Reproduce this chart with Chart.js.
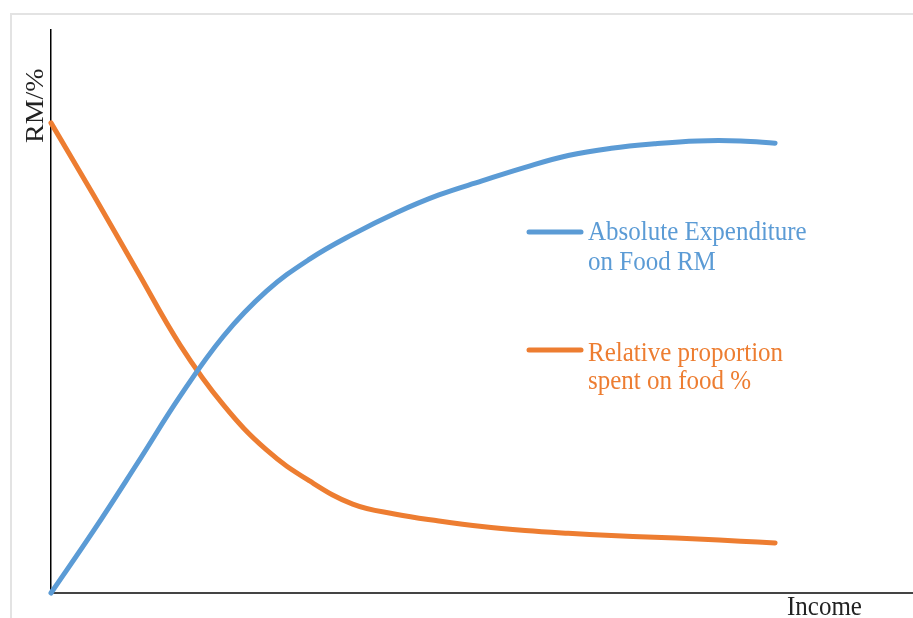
<!DOCTYPE html>
<html>
<head>
<meta charset="utf-8">
<script src="https://cdn.jsdelivr.net/npm/chart.js@4.4.0/dist/chart.umd.min.js"></script>
<style>
  body { margin: 0; background: #fff; }
  #wrap { position: relative; width: 913px; height: 618px; overflow: hidden; }
  #frame { position: absolute; left: 10px; top: 13px; width: 1000px; height: 700px; border: 2px solid #e3e3e3; }
  #myChart { position: absolute; left: 0; top: 0; }
</style>
</head>
<body>
<div id="wrap">
  <div id="frame"></div>
  <canvas id="myChart" width="913" height="618"></canvas>
</div>
<script>
// income steps (x) and the two curves
const income = [0, 5, 10, 15, 20, 25, 30, 35, 40, 45, 50, 55, 60, 65, 70, 75, 80, 84];
const absoluteExpenditure = [0, 11.2, 23.0, 35.0, 45.6, 53.6, 59.3, 63.7, 67.5, 70.7, 73.2, 75.6, 77.7, 79.0, 79.8, 80.3, 80.3, 79.9];
const relativeProportion = [83.5, 70.5, 57.2, 44.0, 33.4, 25.4, 19.9, 15.8, 14.0, 12.8, 11.8, 11.1, 10.6, 10.2, 9.9, 9.6, 9.2, 8.9];
const seriesNames = [['Absolute Expenditure', 'on Food RM'], ['Relative proportion', 'spent on food %']];
const seriesColors = ['#5B9BD5', '#ED7D31'];
const yAxisLabel = 'RM/%';
const xAxisLabel = 'Income';

function toPoints(values) {
    return income.map((x, i) => ({ x: x, y: values[i] }));
}

// text in the original is stretched a bit vertically
function stretchedText(ctx, text, x, y, sx, sy) {
    ctx.save();
    ctx.translate(x, y);
    ctx.scale(sx, sy);
    ctx.fillText(text, 0, 0);
    ctx.restore();
}

const labelsPlugin = {
    id: 'labelsPlugin',
    afterDraw(chart) {
        const ctx = chart.ctx;
        ctx.save();
        ctx.font = '25px "Liberation Serif", "Times New Roman", serif';
        ctx.textBaseline = 'alphabetic';
        ctx.textAlign = 'left';

        // legend inside the plot
        const legendSpots = [
            { lineY: 232, base: [240, 270] },
            { lineY: 350, base: [361, 389] }
        ];
        chart.data.datasets.forEach((ds, i) => {
            const spot = legendSpots[i];
            ctx.strokeStyle = ds.borderColor;
            ctx.lineWidth = 5;
            ctx.lineCap = 'round';
            ctx.beginPath();
            ctx.moveTo(529, spot.lineY);
            ctx.lineTo(581, spot.lineY);
            ctx.stroke();
            ctx.fillStyle = ds.borderColor;
            ds.label.forEach((line, j) => {
                stretchedText(ctx, line, 588, spot.base[j], 1, 1.12);
            });
        });

        // axis titles
        ctx.fillStyle = '#222';
        stretchedText(ctx, xAxisLabel, 787, 615, 1, 1.12);
        ctx.save();
        ctx.translate(43, 143);
        ctx.rotate(-Math.PI / 2);
        ctx.scale(1.12, 1);
        ctx.fillText(yAxisLabel, 0, 0);
        ctx.restore();
        ctx.restore();
    }
};

function initChart(target) {
    const data = {
        datasets: [
            {
                label: seriesNames[0],
                data: toPoints(absoluteExpenditure),
                borderColor: seriesColors[0],
                borderWidth: 5,
                borderCapStyle: 'round',
                pointRadius: 0,
                tension: 0.4,
                clip: false
            },
            {
                label: seriesNames[1],
                data: toPoints(relativeProportion),
                borderColor: seriesColors[1],
                borderWidth: 5,
                borderCapStyle: 'round',
                pointRadius: 0,
                tension: 0.4,
                clip: false
            }
        ]
    };

    const config = {
        type: 'line',
        data: data,
        options: {
            responsive: false,
            animation: false,
            devicePixelRatio: 1,
            layout: { padding: { left: 51, top: 30, right: 0, bottom: 25 } },
            plugins: {
                legend: { display: false },
                tooltip: { enabled: false }
            },
            scales: {
                x: {
                    type: 'linear',
                    min: 0,
                    max: 100,
                    grid: { display: false, drawTicks: false },
                    ticks: { display: false },
                    border: { color: '#444', width: 2 }
                },
                y: {
                    min: 0,
                    max: 100,
                    grid: { display: false, drawTicks: false },
                    ticks: { display: false },
                    border: { color: '#000', width: 1.5 }
                }
            }
        },
        plugins: [labelsPlugin]
    };

    return new Chart(target, config);
}

document.addEventListener('DOMContentLoaded', () => {
    const chart = initChart(document.querySelector('#myChart'));
    console.log('area', chart.chartArea);
});
</script>
</body>
</html>
